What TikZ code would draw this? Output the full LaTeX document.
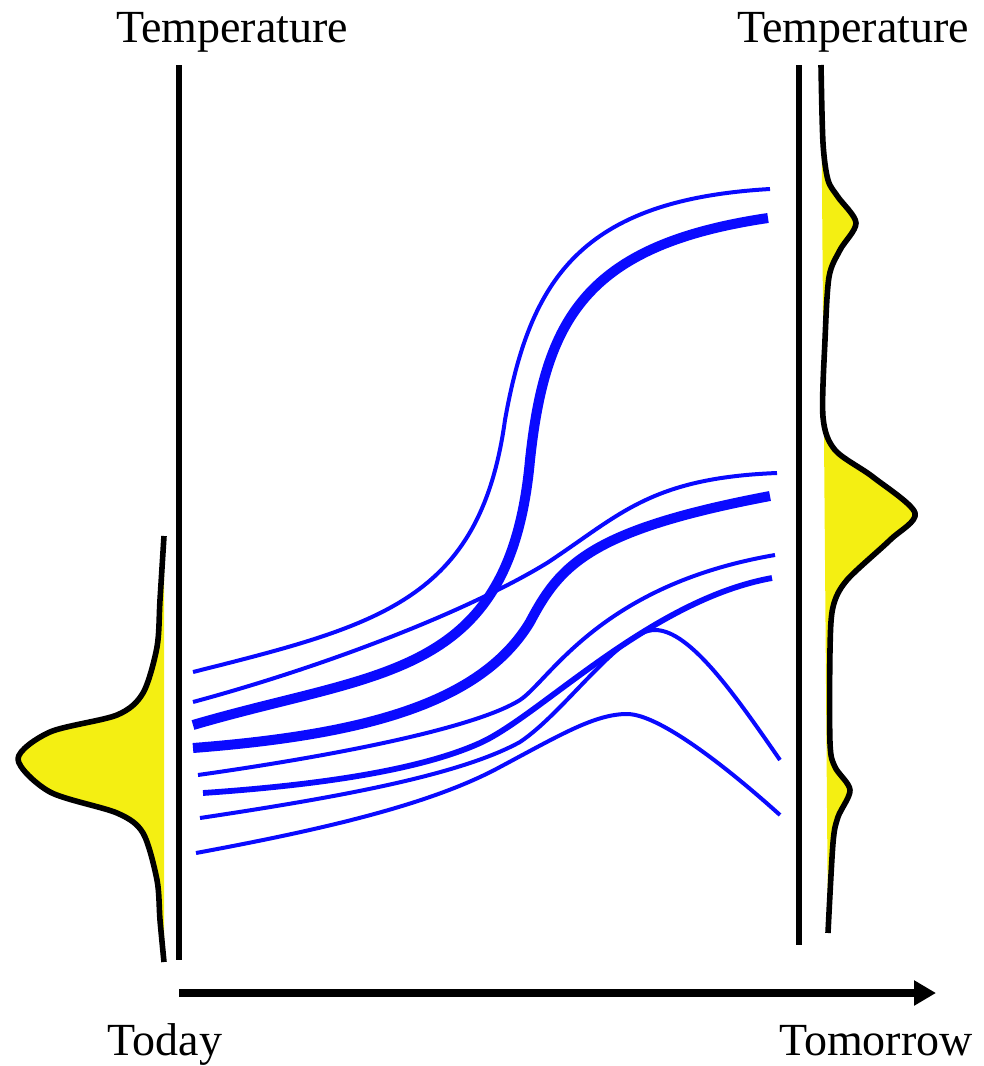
\documentclass[tikz,border=0pt]{standalone}
\usepackage{fontspec}
\setmainfont{Liberation Serif}
\usetikzlibrary{arrows.meta}
\definecolor{pdfyellow}{HTML}{F4EF12}
\definecolor{pathblue}{HTML}{0A0AFF}

\begin{document}
\begin{tikzpicture}[x=0.5pt,y=-0.5pt,
  thinpath/.style={pathblue, line width=2pt},
  midpath/.style={pathblue, line width=2.9pt},
  thickpath/.style={pathblue, line width=5pt},
  distline/.style={black, line width=2.8pt, line join=round},
  timeline/.style={black, line width=2.8pt},
  lbl/.style={font=\fontsize{23}{26}\selectfont, anchor=base, inner sep=0pt}]
\useasboundingbox (0,0) rectangle (984,1066);

% axes
\coordinate (todayTop) at (179,65);
\coordinate (todayBot) at (179,960);
\coordinate (tomTop) at (799,65);
\coordinate (tomBot) at (799,945);
\draw[timeline] (todayTop) -- (todayBot);
\draw[timeline] (tomTop) -- (tomBot);
\coordinate (tstart) at (179,993);
\coordinate (tend) at (936,993);
\draw[line width=4pt, -{Triangle[length=11pt,width=12pt]}] (tstart) -- (tend);

% distribution today
\fill[pdfyellow] plot[smooth] coordinates {(164,536) (160,600) (157,647) (143,693) (117,715) (50,732) (18,759) (50,792) (117,813) (143,833) (157,880) (160,920) (164,962)} -- cycle;
\draw[distline] plot[smooth] coordinates {(164,536) (160,600) (157,647) (143,693) (117,715) (50,732) (18,759) (50,792) (117,813) (143,833) (157,880) (160,920) (164,962)};

% distribution tomorrow
\fill[pdfyellow] plot[smooth] coordinates {(821,65) (823,143) (828,180) (838,197) (856,223) (840,250) (829,277) (825,340) (823,417) (835,450) (873,477) (915,513) (890,540) (847,580) (833,607) (830,650) (830,743) (835,767) (850,790) (838,817) (833,843) (828,933)} -- cycle;
\draw[distline] plot[smooth] coordinates {(821,65) (823,143) (828,180) (838,197) (856,223) (840,250) (829,277) (825,340) (823,417) (835,450) (873,477) (915,513) (890,540) (847,580) (833,607) (830,650) (830,743) (835,767) (850,790) (838,817) (833,843) (828,933)};

% trajectories
\draw[thinpath] (193,672) .. controls (380,625) and (480,600) .. (505,420)
  .. controls (530,280) and (580,200) .. (770,189);
\draw[thinpath] (193,702) .. controls (330,665) and (470,610) .. (547,563)
  .. controls (620,515) and (650,478) .. (777,473);
\draw[thickpath] (193,725) .. controls (380,670) and (510,680) .. (530,460)
  .. controls (545,320) and (585,245) .. (768,218);
\draw[thickpath] (193,748) .. controls (360,735) and (480,705) .. (530,622)
  .. controls (560,565) and (590,530) .. (770,496);
\draw[thinpath] (198,775) .. controls (360,752) and (480,725) .. (520,700)
  .. controls (550,680) and (600,585) .. (775,555);
\draw[midpath] (203,793) .. controls (320,785) and (420,770) .. (480,743)
  .. controls (540,716) and (650,600) .. (772,578);
\draw[thinpath] (200,818) .. controls (340,797) and (460,775) .. (520,742)
  .. controls (565,712) and (620,630) .. (655,630)
  .. controls (690,630) and (735,695) .. (780,760);
\draw[thinpath] (196,853) .. controls (320,830) and (430,805) .. (500,767)
  .. controls (560,735) and (595,714) .. (627,714)
  .. controls (660,714) and (730,770) .. (780,815);

% labels
\node[lbl] (tempL) at (232,42) {Temperature};
\node[lbl] (tempR) at (853,42) {Temperature};
\node[lbl] (today) at (165,1055) {Today};
\node[lbl] (tomorrow) at (876,1055) {Tomorrow};
\end{tikzpicture}
\end{document}
